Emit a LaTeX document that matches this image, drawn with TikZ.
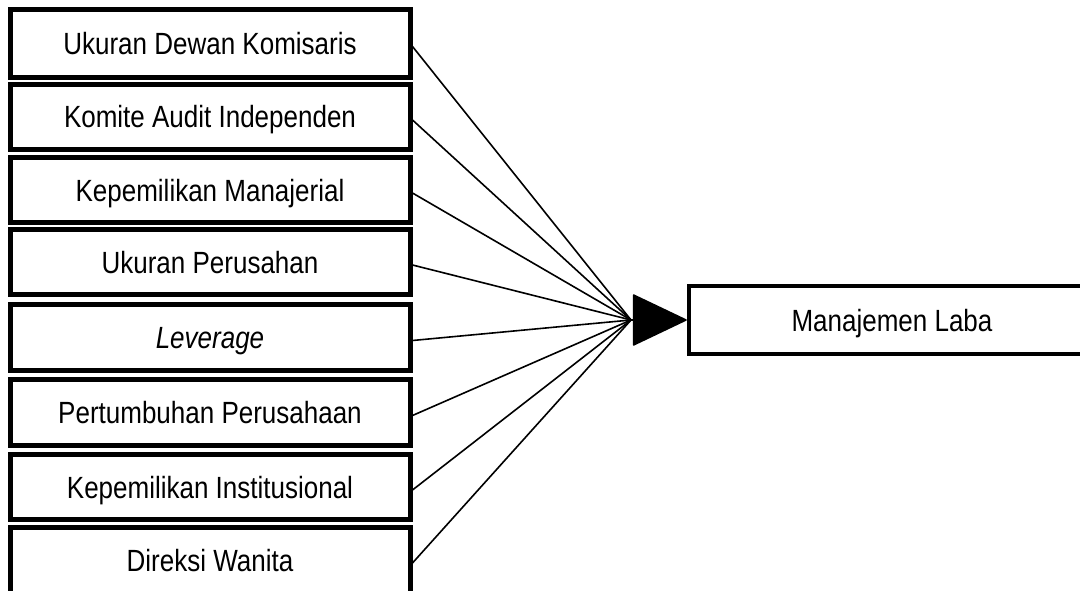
\documentclass[tikz,border=0pt]{standalone}
\usepackage{fontspec}
\usepackage{graphicx}
\setmainfont{Liberation Sans}
\usetikzlibrary{arrows.meta}
\newcommand{\stretchtxt}[1]{\scalebox{1}[1.18]{#1}}
\tikzset{
  varbox/.style={draw=black, line width=5pt, minimum width=400pt, minimum height=66pt,
    inner sep=0pt, text height=22pt, text depth=0pt, align=center,
    font=\fontsize{26}{30}\selectfont},
  link/.style={line width=1.6pt, draw=black},
  bigarrow/.style={line width=1.6pt, -{Triangle[length=55pt,width=52pt,round]}}
}
\begin{document}
\begin{tikzpicture}[x=1pt,y=-1pt]
\useasboundingbox (0,0) rectangle (1080,591);
\fill[white] (0,0) rectangle (1080,591);
\node[varbox, minimum height=68pt] (b1) at (210,43.5) {\stretchtxt{Ukuran Dewan Komisaris}};
\node[varbox, minimum height=65pt] (b2) at (210,117) {\stretchtxt{Komite Audit Independen}};
\node[varbox, minimum height=65pt] (b3) at (210,190) {\stretchtxt{Kepemilikan Manajerial}};
\node[varbox, minimum height=65pt] (b4) at (210,262) {\stretchtxt{Ukuran Perusahan}};
\node[varbox, minimum height=66pt] (b5) at (210,337.5) {\stretchtxt{\itshape Leverage}};
\node[varbox, minimum height=66pt] (b6) at (210,412.5) {\stretchtxt{Pertumbuhan Perusahaan}};
\node[varbox, minimum height=65pt] (b7) at (210,487) {\stretchtxt{Kepemilikan Institusional}};
\node[varbox, minimum height=66pt] (b8) at (210,560) {\stretchtxt{Direksi Wanita}};
\node[varbox, minimum width=406pt, minimum height=68pt, line width=4.5pt] (m) at (892,320) {\stretchtxt{Manajemen Laba}};
\coordinate (conv) at (631,320);
\foreach \i in {1,...,8} {
  \draw[link] ([yshift=-3pt]b\i.east) -- (conv);
}
\draw[bigarrow] (conv) -- (m.west);
\end{tikzpicture}
\end{document}
